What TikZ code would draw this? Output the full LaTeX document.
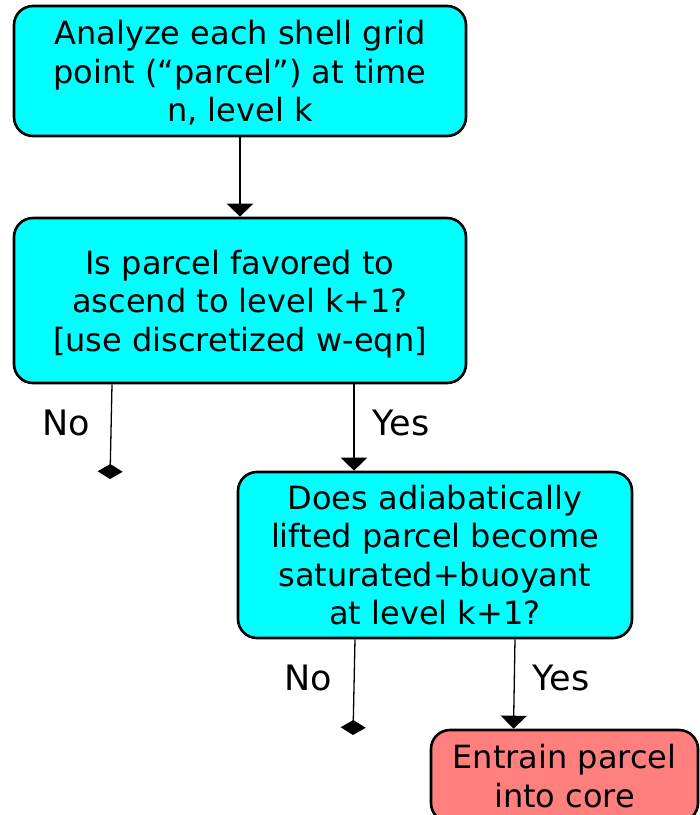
\documentclass[tikz,border=0pt]{standalone}
\usepackage{fontspec}
\setmainfont{DejaVu Sans}
\usetikzlibrary{arrows.meta,calc}
\definecolor{boxcyan}{HTML}{00FFFF}
\definecolor{boxred}{HTML}{FF7F7F}
\newcommand\bxtext[1]{\raisebox{-4.5pt}[\height][\depth]{\begin{tabular}{@{}c@{}}#1\end{tabular}}}
\begin{document}
\begin{tikzpicture}[x=1pt,y=-1pt,
  box/.style={draw=black, line width=2.6pt, rounded corners=19pt, align=center,
    font=\fontsize{32}{38.5}\selectfont, inner sep=0pt},
  cyanbox/.style={box, fill=boxcyan},
  redbox/.style={box, fill=boxred},
  conn/.style={line width=1.3pt},
  yesarrow/.style={conn, -{Triangle[width=26pt,length=13pt]}},
  noarrow/.style={conn, -{Diamond[width=25pt,length=15pt]}},
  lbl/.style={font=\fontsize{35}{42}\selectfont, inner sep=0pt}]
\useasboundingbox (0,0) rectangle (700,815);
\clip (0,0) rectangle (700,815);

\node[cyanbox, minimum width=452pt, minimum height=130pt] (b1) at (240,71)
  {\bxtext{Analyze each shell grid\\point (“parcel”) at time\\n, level k}};
\node[cyanbox, minimum width=452pt, minimum height=165pt] (b2) at (240,300.5)
  {\bxtext{Is parcel favored to\\ascend to level k+1?\\{[}use discretized w-eqn{]}}};
\node[cyanbox, minimum width=394pt, minimum height=166pt] (b3) at (435,555)
  {\bxtext{Does adiabatically\\lifted parcel become\\saturated+buoyant\\at level k+1?}};
\node[redbox, minimum width=267pt, minimum height=92pt] (b4) at (564.5,776)
  {\bxtext{Entrain parcel\\into core}};

\coordinate (n1) at (110,479);
\coordinate (n2) at (353,735);

\draw[yesarrow] (b1) -- (b2);
\draw[noarrow] ([xshift=-128pt]b2.south) -- (n1);
\draw[yesarrow] ([xshift=114pt]b2.south) -- ([xshift=-81pt]b3.north);
\draw[noarrow] ([xshift=-80pt]b3.south) -- (n2);
\draw[yesarrow] ([xshift=80pt]b3.south) -- ([xshift=-51pt]b4.north);

\node[lbl] (l1) at (66,423) {No};
\node[lbl] (l2) at (401,423) {Yes};
\node[lbl] (l3) at (308,678) {No};
\node[lbl] (l4) at (561,678) {Yes};
\end{tikzpicture}
\end{document}
